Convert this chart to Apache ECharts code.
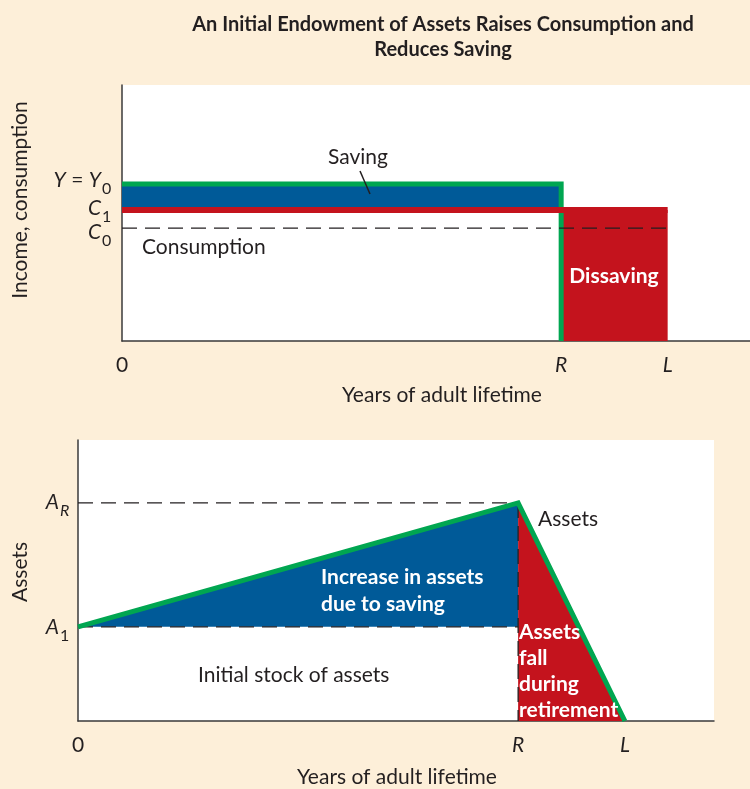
<!DOCTYPE html>
<html>
<head>
<meta charset="utf-8">
<script src="https://cdn.jsdelivr.net/npm/echarts@6/dist/echarts.min.js"></script>
<style>
html,body{margin:0;padding:0;background:#FDEFD9;}
#chart{width:750px;height:789px;}
</style>
</head>
<body>
<div id="chart"></div>
<script>
// ---- data ----
const R = 40;            // retirement year
const L = 49.7;          // end of life
const Y0 = 61.3;         // income
const C1 = 51.2;         // consumption with initial endowment
const C0 = 44.1;         // consumption without endowment
const A1 = 33.5;         // initial assets
const AR = 77.6;         // assets at retirement

const xTickValues = [0, R, L];
const xTickLabels = ['0', '{i|R}', '{i|L}'];
const topTickValues = [Y0, C1, C0];
const topTickMain = ['{i|Y} = {i|Y}', '{i|C}', '{i|C}'];
const topTickSub = ['0', '1', '0'];
const botTickValues = [AR, A1];
const botTickMain = ['{i|A}', '{i|A}'];
const botTickSub = ['{i|R}', '1'];

// shapes built from the values
const savingRect = [[0, C1], [R, C1], [R, Y0], [0, Y0]];
const dissavingRect = [[R, 0], [L, 0], [L, C1], [R, C1]];
const incomeLine = [[0, Y0], [R, Y0], [R, 0]];
const consumptionLine = [[0, C1], [L, C1]];
const c0Line = [[0, C0], [L, C0]];
const increaseTri = [[0, A1], [R, AR], [R, A1]];
const fallTri = [[R, AR], [R, 0], [L, 0]];
const assetsLine = [[0, A1], [R, AR], [L, 0]];
const arDash = [[0, AR], [R, AR]];
const a1Dash = [[0, A1], [R, A1]];
const rDash = [[R, AR], [R, 0]];

// label nudges in pixels (layout only)
const topLabelNudge = [-4, -2, 4];
const botLabelNudge = [-1, 0];

const BLUE = '#005A98', RED = '#C4131D', GREEN = '#00A651', INK = '#231F20';
const FONT = 'Lato, "Open Sans", sans-serif';
const FS = 21;

const chart = echarts.init(document.getElementById('chart'));

function polySeries(pts, color, xi, z) {
  return {
    type: 'custom', xAxisIndex: xi, yAxisIndex: xi, z: z,
    data: [[0, 0]], silent: true,
    renderItem: function (params, api) {
      return {type: 'polygon', shape: {points: pts.map(p => api.coord(p))}, style: {fill: color}};
    }
  };
}
function lineSeries(pts, color, width, xi, z, dashed) {
  return {
    type: 'line', xAxisIndex: xi, yAxisIndex: xi, z: z, data: pts,
    symbol: 'none', silent: true, animation: false,
    lineStyle: {color: color, width: width, type: dashed ? [15, 8] : 'solid', cap: 'butt', join: 'miter'}
  };
}

const richX = {i: {fontStyle: 'italic', fontSize: FS, fontFamily: FONT, color: INK}};
const richMain = {i: {fontStyle: 'italic', fontSize: FS, fontFamily: FONT, fill: INK}};
const richSub = {i: {fontStyle: 'italic', fontSize: 16, fontFamily: FONT, fill: INK}};

// y tick labels drawn through the axis scale (custom series)
function yLabelSeries(vals, mains, subs, nudges, xi, gap) {
  const subW = 9;
  return {
    type: 'custom', xAxisIndex: xi, yAxisIndex: xi, z: 10, clip: false, silent: true,
    data: vals.map(v => [0, v]),
    renderItem: function (params, api) {
      const p = api.coord([0, api.value(1)]);
      const i = params.dataIndex;
      const y = p[1] + nudges[i];
      const xr = p[0] - gap - subW;
      return {
        type: 'group',
        children: [
          {type: 'text', x: xr, y: y, style: {
            text: mains[i], textAlign: 'right', textVerticalAlign: 'middle',
            fontSize: FS, fontFamily: FONT, fill: INK, rich: richMain}},
          {type: 'text', x: xr + 1, y: y + 9, style: {
            text: subs[i], textAlign: 'left', textVerticalAlign: 'middle',
            fontSize: 16, fontFamily: FONT, fill: INK, rich: richSub}}
        ]
      };
    }
  };
}

function xAxisCfg(gi, max) {
  return {
    type: 'value', gridIndex: gi, min: 0, max: max,
    axisLine: {show: true, lineStyle: {color: '#3a3a3a', width: 1.5}},
    axisTick: {show: false}, splitLine: {show: false},
    axisLabel: {
      customValues: xTickValues, margin: 14, fontSize: FS, fontFamily: FONT, color: INK,
      formatter: v => xTickLabels[xTickValues.indexOf(v)], rich: richX
    }
  };
}
function yAxisCfg(gi) {
  return {
    type: 'value', gridIndex: gi, min: 0, max: 100,
    axisLine: {show: true, lineStyle: {color: '#3a3a3a', width: 1.5}},
    axisTick: {show: false}, splitLine: {show: false}, axisLabel: {show: false}
  };
}

function txt(text, x, y, opts) {
  opts = opts || {};
  return {
    type: 'text', x: x, y: y, rotation: opts.rot || 0, z: 100, silent: true,
    style: {
      text: text, fill: opts.color || INK, textAlign: opts.align || 'left',
      textVerticalAlign: 'middle', fontSize: opts.size || FS,
      fontWeight: opts.bold ? 'bold' : 'normal', fontFamily: FONT,
      lineHeight: opts.lh || 26
    }
  };
}

chart.setOption({
  animation: false,
  backgroundColor: '#FDEFD9',
  title: {
    text: 'An Initial Endowment of Assets Raises Consumption and\nReduces Saving',
    left: 438, top: 7, textAlign: 'center',
    textStyle: {fontSize: 20, fontWeight: 'bold', fontFamily: FONT, color: INK, lineHeight: 25}
  },
  grid: [
    {left: 122, top: 85, width: 628, height: 256, show: true, backgroundColor: '#fff', borderWidth: 0},
    {left: 78, top: 440, width: 636, height: 281, show: true, backgroundColor: '#fff', borderWidth: 0}
  ],
  xAxis: [xAxisCfg(0, 57.2), xAxisCfg(1, 57.8)],
  yAxis: [yAxisCfg(0), yAxisCfg(1)],
  series: [
    polySeries(savingRect, BLUE, 0, 2),
    polySeries(dissavingRect, RED, 0, 2),
    lineSeries(incomeLine, GREEN, 5, 0, 3, false),
    lineSeries(consumptionLine, RED, 6, 0, 4, false),
    lineSeries(c0Line, INK, 1.3, 0, 5, true),
    polySeries(increaseTri, BLUE, 1, 2),
    polySeries(fallTri, RED, 1, 2),
    lineSeries(arDash, INK, 1.3, 1, 3, true),
    lineSeries(a1Dash, INK, 1.3, 1, 3, true),
    lineSeries(rDash, INK, 1.3, 1, 3, true),
    lineSeries(assetsLine, GREEN, 5, 1, 4, false),
    yLabelSeries(topTickValues, topTickMain, topTickSub, topLabelNudge, 0, 12),
    yLabelSeries(botTickValues, botTickMain, botTickSub, botLabelNudge, 1, 10)
  ],
  graphic: [
    txt('Income, consumption', 20, 200, {rot: Math.PI / 2, align: 'center'}),
    txt('Saving', 328, 157),
    {type: 'line', z: 100, silent: true, shape: {x1: 360, y1: 171, x2: 370, y2: 194}, style: {stroke: INK, lineWidth: 1.5}},
    txt('Consumption', 142, 247),
    txt('Dissaving', 614, 276, {bold: true, color: '#fff', align: 'center'}),
    txt('Years of adult lifetime', 442, 395, {align: 'center'}),
    txt('Assets', 20, 572, {rot: Math.PI / 2, align: 'center'}),
    txt('Assets', 538, 519),
    txt('Increase in assets\ndue to saving', 321, 591, {bold: true, color: '#fff', lh: 27}),
    txt('Initial stock of assets', 198, 675),
    txt('Assets\nfall\nduring\nretirement', 519, 671, {bold: true, color: '#fff', lh: 26}),
    txt('Years of adult lifetime', 397, 777, {align: 'center'})
  ]
});
</script>
</body>
</html>
